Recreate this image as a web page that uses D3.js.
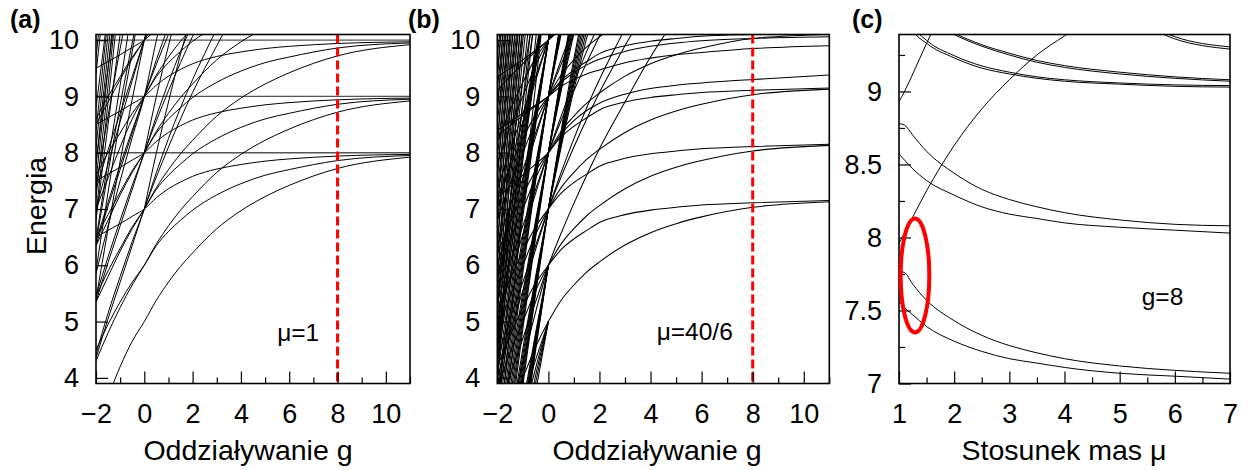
<!DOCTYPE html>
<html>
<head>
<meta charset="utf-8">
<script src="https://cdn.jsdelivr.net/npm/d3@7"></script>
<style>
  body { margin: 0; background: #fff; }
  text { font-family: "Liberation Sans", Arial, Helvetica, sans-serif; fill: #000; }
</style>
</head>
<body>
<svg width="1249" height="470"></svg>
<script>
// g values shared by the curves of panels (a) and (b)
var gGrid = [-2, -1.5, -1, -0.5, 0, 0.5, 1, 1.5, 2, 3, 4, 5, 6, 8, 11];

// panel (a), mu = 1: flat (non-interacting) levels and the g-dependent levels
var aLevels = [8, 9, 10];
var aCurves = [
  [3.0, 3.65, 4.2, 4.65, 5.0, 5.38, 5.7, 5.98, 6.22, 6.65, 6.97, 7.22, 7.42, 7.72, 7.92],
  [4.3, 4.8, 5.25, 5.65, 6.0, 6.38, 6.7, 6.98, 7.22, 7.65, 7.97, 8.22, 8.42, 8.72, 8.92],
  [5.35, 5.8, 6.25, 6.65, 7.0, 7.38, 7.7, 7.98, 8.22, 8.65, 8.97, 9.22, 9.42, 9.72, 9.92],
  [6.35, 6.8, 7.25, 7.65, 8.0, 8.38, 8.7, 8.98, 9.22, 9.65, 9.97, 10.22],
  [7.0, 7.55, 8.1, 8.6, 9.0, 9.38, 9.7, 9.98, 10.22],
  [8.5, 8.9, 9.3, 9.67, 10.0, 10.38],
  [4.5, 4.95, 5.35, 5.7, 6.0, 6.35, 6.6, 6.8, 6.98, 7.25, 7.45, 7.6, 7.7, 7.86, 7.95],
  [5.45, 5.9, 6.3, 6.68, 7.0, 7.35, 7.6, 7.8, 7.98, 8.25, 8.45, 8.6, 8.7, 8.86, 8.95],
  [6.5, 6.9, 7.3, 7.68, 8.0, 8.35, 8.6, 8.8, 8.98, 9.25, 9.45, 9.6, 9.7, 9.86, 9.95],
  [7.6, 8.0, 8.35, 8.7, 9.0, 9.35, 9.6, 9.8, 9.98, 10.25],
  [8.6, 9.0, 9.35, 9.7, 10.0, 10.35],
  [6.5, 6.62, 6.74, 6.87, 7.0, 7.2, 7.36, 7.48, 7.58, 7.71, 7.79, 7.85, 7.89, 7.94, 7.97],
  [7.5, 7.62, 7.74, 7.87, 8.0, 8.2, 8.36, 8.48, 8.58, 8.71, 8.79, 8.85, 8.89, 8.94, 8.97],
  [8.5, 8.62, 8.74, 8.87, 9.0, 9.2, 9.36, 9.48, 9.58, 9.71, 9.79, 9.85, 9.89, 9.94, 9.97],
  [9.5, 9.62, 9.74, 9.87, 10.0, 10.2],
  [4.35, 5.05, 5.7, 6.35, 7.0, 7.57, 8.1, 8.6, 9.07, 9.9, 10.7],
  [5.35, 6.05, 6.7, 7.35, 8.0, 8.57, 9.1, 9.6, 10.07, 10.9],
  [6.35, 7.05, 7.7, 8.35, 9.0, 9.57, 10.1, 10.6],
  [7.35, 8.05, 8.7, 9.35, 10.0, 10.57],
  [4.42, 5.15, 5.8, 6.42, 7.0, 7.65, 8.25, 8.8, 9.3, 10.2],
  [5.45, 6.15, 6.8, 7.42, 8.0, 8.65, 9.25, 9.8, 10.3],
  [6.42, 7.12, 7.78, 8.4, 9.0, 9.65, 10.25],
  [7.0, 7.8, 8.55, 9.28, 10.0, 10.65],
  [null, null, null, null, 7.0, 8.0, 8.9, 9.75, 10.5],
  [null, null, null, null, 8.0, 9.0, 9.9, 10.75],
  [5.85, 6.7, 7.5, 8.27, 9.0, 10.0, 10.9],
  [5.4, 6.65, 7.85, 8.95, 10.0, 11.0],
  [6.4, 7.65, 8.85, 9.95, 11.0],
  [7.4, 8.65, 9.85, 10.95],
  [5.9, 7.3, 8.6, 9.8, 11.0],
  [6.45, 7.85, 9.2, 10.6],
  [6.8, 8.5, 10.1, 11.6],
  [7.8, 9.5, 11.1],
  [8.8, 10.5],
  [6.9, 8.9, 10.9],
  [7.2, 9.2, 11.2],
  [7.5, 9.5, 11.5],
  [7.8, 9.8, 11.8],
  [8.1, 10.1, 12.1],
  [8.4, 10.4],
  [9.4, 11.4],
  [9.7, 11.7]
];

// panel (b), mu = 40/6
var bCurves = [
  [2.8, 3.45, 4.0, 4.55, 5.0, 5.38, 5.65, 5.88, 6.06, 6.36, 6.58, 6.74, 6.86, 7.03, 7.13],
  [3.8, 4.45, 5.0, 5.55, 6.0, 6.38, 6.65, 6.88, 7.06, 7.36, 7.58, 7.74, 7.86, 8.03, 8.13],
  [4.8, 5.45, 6.0, 6.55, 7.0, 7.38, 7.65, 7.88, 8.06, 8.36, 8.58, 8.74, 8.86, 9.03, 9.13],
  [5.8, 6.45, 7.0, 7.55, 8.0, 8.38, 8.65, 8.88, 9.06, 9.36, 9.58, 9.74, 9.86, 10.03, 10.1],
  [6.8, 7.45, 8.0, 8.55, 9.0, 9.38, 9.65, 9.88, 10.06, 10.36],
  [7.8, 8.45, 9.0, 9.55, 10.0, 10.38],
  [4.2, 4.75, 5.25, 5.68, 6.0, 6.28, 6.47, 6.62, 6.76, 6.9, 6.98, 7.03, 7.07, 7.11, 7.15],
  [5.2, 5.75, 6.25, 6.68, 7.0, 7.28, 7.47, 7.62, 7.76, 7.9, 7.98, 8.03, 8.07, 8.11, 8.15],
  [6.2, 6.75, 7.25, 7.68, 8.0, 8.28, 8.47, 8.62, 8.76, 8.9, 8.98, 9.03, 9.07, 9.11, 9.15],
  [7.2, 7.75, 8.25, 8.68, 9.0, 9.28, 9.47, 9.62, 9.76, 9.9, 9.98, 10.03, 10.07, 10.1, 10.12],
  [8.2, 8.75, 9.25, 9.68, 10.0, 10.28],
  [7.2, 7.4, 7.6, 7.8, 8.0, 8.33, 8.57, 8.75, 8.88, 9.04, 9.14, 9.2, 9.24, 9.3, 9.38],
  [8.4, 8.55, 8.7, 8.85, 9.0, 9.18, 9.3, 9.4, 9.47, 9.6, 9.68, 9.74, 9.78, 9.85, 9.9],
  [8.3, 8.48, 8.66, 8.83, 9.0, 9.25, 9.42, 9.56, 9.66, 9.8, 9.89, 9.95, 9.99, 10.03, 10.06],
  [9.35, 9.5, 9.65, 9.82, 10.0, 10.2],
  [9.1, 9.35, 9.58, 9.8, 10.0, 10.25],
  [3.35, 4.05, 4.7, 5.35, 6.0, 6.57, 7.1, 7.6, 8.07, 8.9, 9.7, 10.4],
  [4.35, 5.05, 5.7, 6.35, 7.0, 7.57, 8.1, 8.6, 9.07, 9.9, 10.7],
  [5.35, 6.05, 6.7, 7.35, 8.0, 8.57, 9.1, 9.6, 10.07, 10.9],
  [6.35, 7.05, 7.7, 8.35, 9.0, 9.57, 10.1, 10.6],
  [7.35, 8.05, 8.7, 9.35, 10.0, 10.57],
  [4.0, 4.8, 5.55, 6.28, 7.0, 7.65, 8.25, 8.8, 9.3, 10.2],
  [5.0, 5.8, 6.55, 7.28, 8.0, 8.65, 9.25, 9.8, 10.3],
  [6.0, 6.8, 7.55, 8.28, 9.0, 9.65, 10.25],
  [7.0, 7.8, 8.55, 9.28, 10.0, 10.65],
  [1.32, 2.31, 3.27, 4.17, 5.0],
  [0.17, 1.47, 2.73, 3.91, 5.0],
  [2.01, 2.82, 3.6, 4.32, 5.0],
  [0.74, 1.89, 3.0, 4.04, 5.0],
  [-0.52, 0.97, 2.41, 3.75, 5.0],
  [2.32, 3.31, 4.27, 5.17, 6.0],
  [0.71, 2.14, 3.52, 4.8, 6.0],
  [0.48, 1.97, 3.41, 4.75, 6.0],
  [0.25, 1.8, 3.3, 4.7, 6.0],
  [0.02, 1.63, 3.19, 4.65, 6.0],
  [-0.21, 1.46, 3.08, 4.6, 6.0],
  [-0.44, 1.3, 2.98, 4.54, 6.0],
  [-0.67, 1.13, 2.87, 4.49, 6.0],
  [1.71, 3.14, 4.52, 5.8, 7.0, 8.1, 9.12, 10.04, 10.9],
  [1.48, 2.97, 4.41, 5.75, 7.0, 8.15, 9.21, 10.17],
  [1.25, 2.8, 4.3, 5.7, 7.0, 8.2, 9.3, 10.3],
  [1.02, 2.63, 4.19, 5.65, 7.0, 8.25, 9.39, 10.43],
  [0.79, 2.46, 4.08, 5.6, 7.0, 8.3, 9.48, 10.56],
  [0.56, 2.3, 3.98, 5.54, 7.0, 8.34, 9.58, 10.7],
  [0.33, 2.13, 3.87, 5.49, 7.0, 8.39, 9.67, 10.8],
  [2.71, 4.14, 5.52, 6.8, 8.0, 9.1, 10.12],
  [2.48, 3.97, 5.41, 6.75, 8.0, 9.15, 10.21],
  [2.25, 3.8, 5.3, 6.7, 8.0, 9.2, 10.3],
  [2.02, 3.63, 5.19, 6.65, 8.0, 9.25, 10.39],
  [1.79, 3.46, 5.08, 6.6, 8.0, 9.3, 10.48],
  [1.56, 3.3, 4.98, 6.54, 8.0, 9.34, 10.58],
  [1.33, 3.13, 4.87, 6.49, 8.0, 9.39, 10.67],
  [3.71, 5.14, 6.52, 7.8, 9.0, 10.1, 11.12],
  [3.48, 4.97, 6.41, 7.75, 9.0, 10.15],
  [3.25, 4.8, 6.3, 7.7, 9.0, 10.2],
  [3.02, 4.63, 6.19, 7.65, 9.0, 10.25],
  [2.79, 4.46, 6.08, 7.6, 9.0, 10.3],
  [2.56, 4.3, 5.98, 7.54, 9.0, 10.34],
  [2.33, 4.13, 5.87, 7.49, 9.0, 10.39],
  [4.71, 6.14, 7.52, 8.8, 10.0, 11.1],
  [4.48, 5.97, 7.41, 8.75, 10.0, 11.15],
  [4.25, 5.8, 7.3, 8.7, 10.0, 11.2],
  [4.02, 5.63, 7.19, 8.65, 10.0, 11.25],
  [3.79, 5.46, 7.08, 8.6, 10.0, 11.3],
  [3.56, 5.3, 6.98, 8.54, 10.0, 11.34],
  [3.33, 5.13, 6.87, 8.49, 10.0, 11.39],
  [5.71, 7.14, 8.52, 9.8, 11.0],
  [5.48, 6.97, 8.41, 9.75, 11.0],
  [5.25, 6.8, 8.3, 9.7, 11.0],
  [5.02, 6.63, 8.19, 9.65, 11.0],
  [4.79, 6.46, 8.08, 9.6, 11.0],
  [4.56, 6.3, 7.98, 9.54, 11.0],
  [4.33, 6.13, 7.87, 9.49, 11.0],
  [6.25, 7.8, 9.3, 10.7],
  [5.33, 7.13, 8.87, 10.49],
  [2.6, 4.9, 7.1, 9.2, 11.3],
  [3.4, 5.7, 7.9, 10.0, 12.1],
  [4.0, 6.3, 8.5, 10.6],
  [4.4, 6.7, 8.9, 11.0],
  [4.8, 7.1, 9.3, 11.4],
  [5.2, 7.5, 9.7, 11.8],
  [5.5, 7.8, 10.0, 12.1],
  [5.8, 8.1, 10.3],
  [6.1, 8.4, 10.6],
  [6.4, 8.7, 10.9],
  [6.7, 9.0, 11.2],
  [7.0, 9.3, 11.5],
  [7.3, 9.6, 11.8],
  [7.6, 9.9, 12.1],
  [7.9, 10.2],
  [8.2, 10.5],
  [8.5, 10.8],
  [8.8, 11.1],
  [9.1, 11.4],
  [9.4, 11.7],
  [9.7, 12.0],
  [10.0, 12.3],
  [3.9, 7.1, 10.3],
  [4.5, 7.7, 10.9],
  [5.1, 8.3, 11.5],
  [5.7, 8.9, 12.1],
  [6.3, 9.5, 12.7],
  [6.9, 10.1],
  [7.5, 10.7],
  [8.1, 11.3],
  [8.7, 11.9],
  [9.3, 12.5]
];

// panel (c), g = 8: energies against the mass ratio mu
var muGrid = [1, 1.1, 1.25, 1.5, 2, 2.5, 3, 3.5, 4, 5, 6, 7];
var cCurves = [
  [8.78, 8.77, 8.7, 8.59, 8.44, 8.33, 8.26, 8.21, 8.17, 8.12, 8.09, 8.08],
  [8.57, 8.53, 8.47, 8.39, 8.29, 8.21, 8.16, 8.13, 8.1, 8.07, 8.05, 8.03],
  [7.77, 7.76, 7.68, 7.57, 7.43, 7.33, 7.26, 7.21, 7.17, 7.12, 7.09, 7.07],
  [7.56, 7.52, 7.47, 7.39, 7.29, 7.22, 7.17, 7.14, 7.11, 7.07, 7.05, 7.03],
  [7.96, 8.03, 8.14, 8.32, 8.63, 8.88, 9.08, 9.25, 9.38, 9.6],
  [8.93, 9.0, 9.12, 9.33, 9.7],
  [null, 9.55, 9.42, 9.33, 9.23, 9.16, 9.12, 9.09, 9.07, 9.05, 9.035, 9.03],
  [null, 9.58, 9.45, 9.35, 9.245, 9.175, 9.132, 9.1, 9.08, 9.058, 9.045, 9.04],
  [null, null, null, 9.5, 9.39, 9.31, 9.25, 9.2, 9.165, 9.12, 9.09, 9.07],
  [null, null, null, 9.51, 9.4, 9.32, 9.262, 9.212, 9.177, 9.132, 9.1, 9.08],
  [null, null, null, null, null, null, null, null, null, 9.55, 9.36, 9.29],
  [null, null, null, null, null, null, null, null, null, 9.57, 9.375, 9.305]
];

var gTicks = [-2, 0, 2, 4, 6, 8, 10];
var gMinor = [-1, 1, 3, 5, 7, 9, 11];
var eTicks = [4, 5, 6, 7, 8, 9, 10];
var muTicks = [1, 2, 3, 4, 5, 6, 7];
var muMinor = [1.5, 2.5, 3.5, 4.5, 5.5, 6.5];
var cTicks = [7, 7.5, 8, 8.5, 9];
var cMinor = [7.25, 7.75, 8.25, 8.75, 9.25];
var markG = 8;
var ellipse = { mu: [1.03, 1.55], e: [7.35, 8.13] };

var svg = d3.select("svg");
var plotTop = 34.5, plotBottom = 383.5;

function panel(id, left, right, xDomain, yDomain) {
  var x = d3.scaleLinear().domain(xDomain).range([left, right]);
  var y = d3.scaleLinear().domain(yDomain).range([plotBottom, plotTop]);
  svg.append("clipPath").attr("id", id)
    .append("rect")
    .attr("x", left).attr("y", plotTop)
    .attr("width", right - left).attr("height", plotBottom - plotTop);
  var g = svg.append("g");
  var plot = g.append("g").attr("clip-path", "url(#" + id + ")");
  return { x: x, y: y, g: g, plot: plot, left: left, right: right };
}

function drawCurves(p, grid, curves, color, width) {
  var line = d3.line()
    .defined(d => d[1] != null)
    .x(d => p.x(d[0]))
    .y(d => p.y(d[1]))
    .curve(d3.curveMonotoneX);
  p.plot.selectAll(null)
    .data(curves)
    .enter()
    .append("path")
    .attr("d", c => line(c.map((v, i) => [grid[i], v])))
    .attr("fill", "none")
    .attr("stroke", color)
    .attr("stroke-width", width);
}

function axes(p, xMajor, xMinor, xFmt, yMajor, yMinor, yFmt) {
  var xa = p.g.append("g")
    .attr("transform", "translate(0," + plotBottom + ")")
    .call(d3.axisBottom(p.x).tickValues(xMajor).tickFormat(xFmt)
      .tickSizeInner(-12).tickSizeOuter(0).tickPadding(20));
  var xm = p.g.append("g")
    .attr("transform", "translate(0," + plotBottom + ")")
    .call(d3.axisBottom(p.x).tickValues(xMinor).tickFormat("")
      .tickSizeInner(-6).tickSizeOuter(0));
  var ya = p.g.append("g")
    .attr("transform", "translate(" + p.left + ",0)")
    .call(d3.axisLeft(p.y).tickValues(yMajor).tickFormat(yFmt)
      .tickSizeInner(-12).tickSizeOuter(0).tickPadding(17));
  var ym = p.g.append("g")
    .attr("transform", "translate(" + p.left + ",0)")
    .call(d3.axisLeft(p.y).tickValues(yMinor).tickFormat("")
      .tickSizeInner(-6).tickSizeOuter(0));
  [xa, xm, ya, ym].forEach(function(a) {
    a.select(".domain").remove();
    a.selectAll("line").attr("stroke", "#000").attr("stroke-width", 1.2);
    a.selectAll("text").attr("font-size", 27)
      .attr("font-family", "Liberation Sans, Arial, sans-serif");
  });
  p.g.append("rect")
    .attr("x", p.left).attr("y", plotTop)
    .attr("width", p.right - p.left).attr("height", plotBottom - plotTop)
    .attr("fill", "none").attr("stroke", "#000").attr("stroke-width", 1.6);
}

function label(x, y, txt, size, anchor, weight) {
  return svg.append("text")
    .attr("x", x).attr("y", y)
    .attr("font-size", size)
    .attr("text-anchor", anchor || "start")
    .attr("font-weight", weight || "normal")
    .text(txt);
}

var fmtInt = d3.format("d");
var fmtE = d3.format("~g");

// (a)
var pa = panel("clipA", 96, 410, [-2, 11], [3.9, 10.1]);
drawCurves(pa, gGrid, aLevels.map(v => gGrid.map(() => v)), "#555", 1.4);
drawCurves(pa, gGrid, aCurves, "#000", 1);
pa.plot.append("line")
  .attr("x1", pa.x(markG)).attr("x2", pa.x(markG))
  .attr("y1", plotTop).attr("y2", plotBottom)
  .attr("stroke", "#ff0000").attr("stroke-width", 3)
  .attr("stroke-dasharray", "9,4");
axes(pa, gTicks, gMinor, fmtInt, eTicks, [], fmtInt);
label(pa.x(5.5), pa.y(4.66), "μ=1", 24.5);

// (b)
var pb = panel("clipB", 497.3, 829.3, [-2, 11], [3.9, 10.1]);
drawCurves(pb, gGrid, bCurves, "#000", 1.05);
pb.plot.append("line")
  .attr("x1", pb.x(markG)).attr("x2", pb.x(markG))
  .attr("y1", plotTop).attr("y2", plotBottom)
  .attr("stroke", "#ff0000").attr("stroke-width", 3)
  .attr("stroke-dasharray", "9,4");
axes(pb, gTicks, gMinor, fmtInt, eTicks, [], fmtInt);
label(pb.x(4.24), pb.y(4.68), "μ=40/6", 24.5);

// (c)
var pc = panel("clipC", 899, 1230, [1, 7], [7, 9.39]);
drawCurves(pc, muGrid, cCurves, "#000", 1);
axes(pc, muTicks, muMinor, fmtInt, cTicks, cMinor, fmtE);
label(pc.x(5.4), pc.y(7.54), "g=8", 24.5);
svg.append("ellipse")
  .attr("cx", (pc.x(ellipse.mu[0]) + pc.x(ellipse.mu[1])) / 2)
  .attr("cy", (pc.y(ellipse.e[0]) + pc.y(ellipse.e[1])) / 2)
  .attr("rx", (pc.x(ellipse.mu[1]) - pc.x(ellipse.mu[0])) / 2)
  .attr("ry", (pc.y(ellipse.e[0]) - pc.y(ellipse.e[1])) / 2)
  .attr("fill", "none").attr("stroke", "#ff0000").attr("stroke-width", 4);

// titles
label(248, 460, "Oddziaływanie g", 28.5, "middle");
label(657, 460, "Oddziaływanie g", 28.5, "middle");
label(1064, 460, "Stosunek mas μ", 28.5, "middle");
svg.append("text")
  .attr("transform", "translate(46,206) rotate(-90)")
  .attr("text-anchor", "middle")
  .attr("font-size", 28.5)
  .text("Energia");
label(10, 28, "(a)", 25, "start", "bold");
label(408, 28, "(b)", 25, "start", "bold");
label(852, 28, "(c)", 25, "start", "bold");
</script>
</body>
</html>
